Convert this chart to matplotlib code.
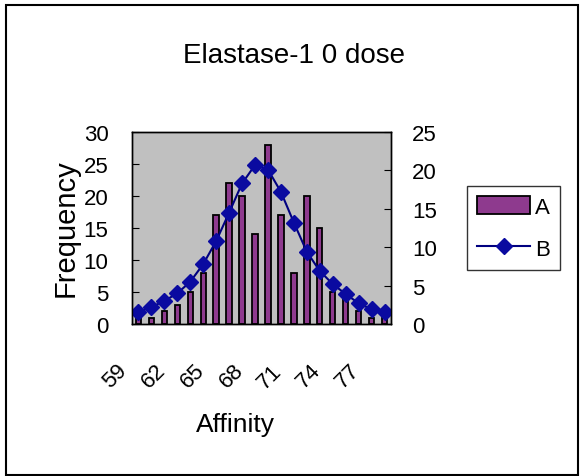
import numpy as np
import matplotlib
matplotlib.use("Agg")
import matplotlib.pyplot as plt
from matplotlib.patches import Rectangle
from matplotlib.transforms import ScaledTranslation

plt.rcParams['font.family'] = ['Liberation Sans', 'DejaVu Sans']

# data
affinity = list(range(59, 79))
freq_a = [1, 1, 2, 3, 5, 8, 17, 22, 20, 14, 28, 17, 8, 20, 15, 5, 4, 2, 1, 1]
series_b = [1.6, 2.2, 3.0, 4.0, 5.5, 7.8, 10.8, 14.5, 18.3, 20.7,
            20.1, 17.2, 13.2, 9.4, 6.9, 5.2, 3.9, 2.7, 1.9, 1.5]
tick_labels = [str(v) for v in affinity[::3]]

W, H = 582, 477
fig = plt.figure(figsize=(W / 100, H / 100), dpi=100)
ax = fig.add_axes([132 / W, 1 - 325 / H, 259 / W, 192 / H])
ax.set_facecolor('#c0c0c0')

x = np.arange(len(affinity))
bars = ax.bar(x, freq_a, width=0.42, color='#8e3a8e', edgecolor='black',
              linewidth=1.3, label='A')
ax.set_xlim(-0.5, len(affinity) - 0.5)
ax.set_ylim(0, 30)
ax.set_yticks(range(0, 31, 5))

ax2 = ax.twinx()
line, = ax2.plot(x, series_b, color='#000080', marker='D', markersize=8,
                 markerfacecolor='#0a0aa0', markeredgecolor='#0a0aa0',
                 linewidth=1.5, label='B')
ax2.set_ylim(0, 25)
ax2.set_yticks(range(0, 26, 5))

for a in (ax, ax2):
    for s in a.spines.values():
        s.set_color('black')
        s.set_linewidth(1)

ax.tick_params(axis='y', direction='in', length=5, pad=17, labelsize=16)
ax2.tick_params(axis='y', direction='in', length=5, pad=15, labelsize=16)

ax.set_xticks(x[::3])
ax.set_xticklabels(tick_labels)
ax.tick_params(axis='x', length=0, pad=31, labelsize=16)
shift = ScaledTranslation(-0.15, 0, fig.dpi_scale_trans)
for lab in ax.get_xticklabels():
    lab.set_rotation(45)
    lab.set_ha('right')
    lab.set_va('center')
    lab.set_rotation_mode('anchor')
    lab.set_transform(lab.get_transform() + shift)

fig.text(294 / W, 1 - 56 / H, 'Elastase-1 0 dose', ha='center', va='center',
         fontsize=20)
fig.text(235 / W, 1 - 425 / H, 'Affinity', ha='center', va='center',
         fontsize=19)
fig.text(66 / W, 1 - 228 / H, 'Frequency', ha='center', va='center',
         rotation=90, fontsize=21)

leg = fig.legend([bars, line], ['A', 'B'], loc='center left',
                 bbox_to_anchor=(467 / W, 1 - 229 / H),
                 bbox_transform=fig.transFigure, frameon=True, fancybox=False,
                 edgecolor='black', handlelength=2.4, handleheight=0.85,
                 handletextpad=0.2, labelspacing=0.9, borderpad=0.45,
                 borderaxespad=0, fontsize=16)
leg.get_frame().set_linewidth(1)

fig.add_artist(Rectangle((5.5 / W, 1 - 476 / H), 572 / W, 470 / H,
                         transform=fig.transFigure, fill=False,
                         edgecolor='black', linewidth=1.5))

fig.savefig('out.png', dpi=100)
